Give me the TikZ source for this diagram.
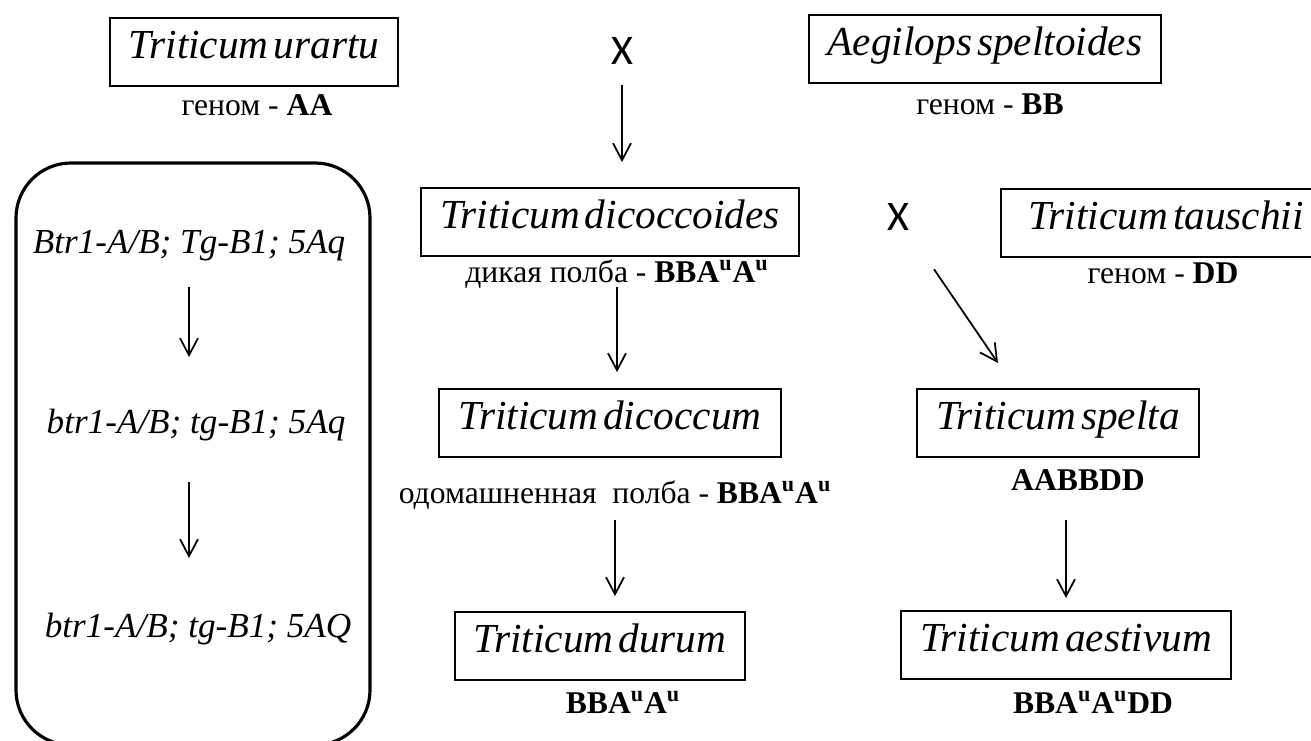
\documentclass[tikz,border=0pt]{standalone}
\usepackage{fontspec}
\setmainfont{Liberation Serif}
\newfontfamily\crossfont{Carlito}
\usetikzlibrary{arrows.meta}

\begin{document}
\begin{tikzpicture}
      [x=0.02cm, y=-0.02cm,
       every node/.style={inner sep=0pt},
       species/.style={draw, line width=1.1pt, inner xsep=0.38cm, minimum height=1.36cm,
         text height=0.75em, text depth=0pt,
         font={\fontsize{23.5}{23.5}\selectfont\itshape\spaceskip=0.12em\relax}},
       genome/.style={anchor=base, font=\fontsize{18}{18}\selectfont},
       gene/.style={anchor=base, font=\fontsize{20}{20}\selectfont\itshape},
       cross/.style={anchor=base, font=\crossfont\fontsize{24}{24}\selectfont},
       arr/.style={-{Straight Barb[length=0.34cm,width=0.36cm]}, line width=1pt}]
      \useasboundingbox (0,0) rectangle (1311,740);

      % parents
      \node [species] (urartu) at (254,52) {Triticum urartu};
      \node [genome] (aagen) at (257,115) {геном - \textbf{AA}};
      \node [cross] (cross1) at (622,65) {X};
      \node [species] (speltoides) at (985,49) {Aegilops speltoides};
      \node [genome] (bbgen) at (990,114) {геном - \textbf{BB}};

      % genes
      \draw [line width=1.8pt, rounded corners=1.1cm] (16,163) rectangle (370,745);
      \node [gene] (g1) at (189,253) {Btr1-A/B; Tg-B1; 5Aq};
      \node [gene] (g2) at (196,433) {btr1-A/B; tg-B1; 5Aq};
      \node [gene] (g3) at (198,637) {btr1-A/B; tg-B1; 5AQ};

      \node [species] (dicoccoides) at (610,222) {Triticum dicoccoides};
      \node [genome] (dicgen) at (617,282) {дикая полба - \textbf{BBA\textsuperscript{u}A\textsuperscript{u}}};
      \node [cross] (cross2) at (898,230) {X};
      \node [species, anchor=west, minimum width=6.6cm] (tauschii) at (1000,223) {Triticum tauschii};
      \node [genome] (ddgen) at (1163,283) {геном - \textbf{DD}};

      \node [species] (dicoccum) at (610,423) {Triticum dicoccum};
      \node [genome] (dcmgen) at (615,503) {одомашненная~ полба - \textbf{BBA\textsuperscript{u}A\textsuperscript{u}}};
      \node [species] (spelta) at (1058,423) {Triticum spelta};
      \node [genome] (spgen) at (1078,490) {\textbf{AABBDD}};

      \node [species] (durum) at (600,646) {Triticum durum};
      \node [genome] (durgen) at (623,713) {\textbf{BBA\textsuperscript{u}A\textsuperscript{u}}};
      \node [species] (aestivum) at (1066,645) {Triticum aestivum};
      \node [genome] (aesgen) at (1093,713) {\textbf{BBA\textsuperscript{u}A\textsuperscript{u}DD}};

      \coordinate (sptip) at (998,363);

      \draw [arr, shorten <=0.4cm, shorten >=0.5cm] (cross1.base) -- (cross1.base |- dicoccoides.north);
      \draw [arr, shorten <=0.1cm, shorten >=0.32cm] (dicgen.base) -- (dicgen.base |- dicoccum.north);
      \draw [arr, shorten <=0.34cm, shorten >=0.3cm] (dcmgen.base) -- (dcmgen.base |- durum.north);
      \draw [arr, shorten <=0.6cm, shorten >=0.24cm] (aestivum.north |- spgen.base) -- (aestivum.north);
      \draw [arr, shorten <=1.28cm] (cross2.center) -- (sptip);
      \draw [arr, shorten <=0.68cm, shorten >=1.52cm] (g1.base) -- (g1.base |- g2.base);
      \draw [arr, shorten <=0.98cm, shorten >=1.58cm] (g1.base |- g2.base) -- (g1.base |- g3.base);
    \end{tikzpicture}
\end{document}
